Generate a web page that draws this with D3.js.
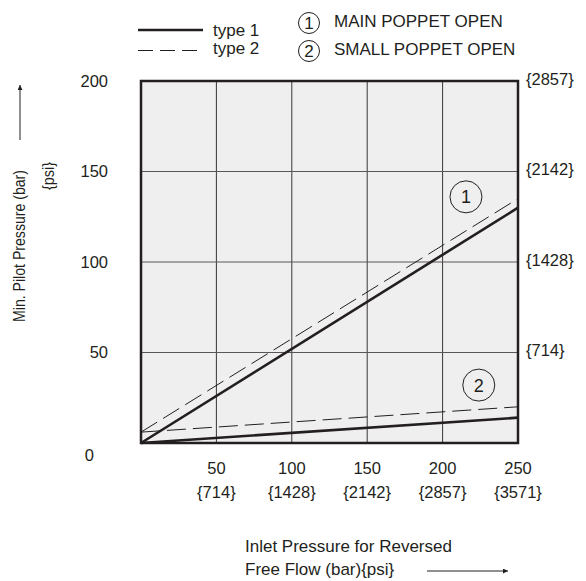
<!DOCTYPE html>
<html>
<head>
<meta charset="utf-8">
<script src="https://cdn.jsdelivr.net/npm/d3@7"></script>
<style>
  body { margin: 0; background: #fff; }
  text { font-family: "Liberation Sans", Arial, sans-serif; fill: #231f20; }
</style>
</head>
<body>
<div id="chart-area"></div>
<script>
// data
var inletBar = [0, 250];
var mainType1 = [0, 130];
var mainType2 = [6, 135];
var smallType1 = [0, 14];
var smallType2 = [6, 20];

var xTicks = [50, 100, 150, 200, 250];
var xPsi = ["{714}", "{1428}", "{2142}", "{2857}", "{3571}"];
var yTicks = [0, 50, 100, 150, 200];
var yPsi = ["", "{714}", "{1428}", "{2142}", "{2857}"];

const svgWidth = 586, svgHeight = 581;
var plot = {left: 141, right: 518, top: 81, bottom: 443};
var ink = "#231f20";
var fs = "16.5px";

var svg = d3.select("#chart-area").append("svg")
    .attr("width", svgWidth)
    .attr("height", svgHeight);

var x = d3.scaleLinear().domain([0, 250]).range([plot.left, plot.right]);
var y = d3.scaleLinear().domain([0, 200]).range([plot.bottom, plot.top]);

// background
svg.append("rect")
    .attr("x", plot.left).attr("y", plot.top)
    .attr("width", plot.right - plot.left)
    .attr("height", plot.bottom - plot.top)
    .attr("fill", "#efefef");

// grid
svg.selectAll(".vgrid").data(xTicks.slice(0, -1)).enter().append("line")
    .attr("x1", d => x(d)).attr("x2", d => x(d))
    .attr("y1", plot.top).attr("y2", plot.bottom)
    .attr("stroke", "#3a3637").attr("stroke-width", 1);
svg.selectAll(".hgrid").data(yTicks.slice(1, -1)).enter().append("line")
    .attr("x1", plot.left).attr("x2", plot.right)
    .attr("y1", d => y(d)).attr("y2", d => y(d))
    .attr("stroke", "#5a5657").attr("stroke-width", 1);

// lines
function series(vals) { return inletBar.map((v, i) => [v, vals[i]]); }
var line = d3.line().x(d => x(d[0])).y(d => y(d[1]));

[[mainType2, true], [smallType2, true], [mainType1, false], [smallType1, false]].forEach(function(s) {
    svg.append("path")
        .attr("d", line(series(s[0])))
        .attr("fill", "none")
        .attr("stroke", ink)
        .attr("stroke-width", s[1] ? 1 : 2.6)
        .attr("stroke-dasharray", s[1] ? "19,7" : null);
});

// frame
svg.append("rect")
    .attr("x", plot.left).attr("y", plot.top)
    .attr("width", plot.right - plot.left)
    .attr("height", plot.bottom - plot.top)
    .attr("fill", "none")
    .attr("stroke", ink)
    .attr("stroke-width", 2.5);

// circled labels in plot
[[1, 215.5, 136], [2, 224, 32]].forEach(function(c) {
    var g = svg.append("g").attr("transform", "translate(" + x(c[1]) + "," + y(c[2]) + ")");
    g.append("circle").attr("r", 16).attr("fill", "none").attr("stroke", ink).attr("stroke-width", 1);
    g.append("text").attr("text-anchor", "middle").attr("dy", "0.36em")
        .attr("font-size", "18px").text(c[0]);
});

// x tick labels
svg.selectAll(".xt").data(xTicks).enter().append("text")
    .attr("x", d => x(d)).attr("y", 474)
    .attr("text-anchor", "middle").attr("font-size", fs)
    .text(d => d);
svg.selectAll(".xp").data(xPsi).enter().append("text")
    .attr("x", (d, i) => x(xTicks[i])).attr("y", 498)
    .attr("text-anchor", "middle").attr("font-size", fs)
    .text(d => d);

// y tick labels
svg.selectAll(".yt").data(yTicks).enter().append("text")
    .attr("x", d => d === 0 ? 94 : 108)
    .attr("y", d => d === 0 ? y(d) + 12 : y(d))
    .attr("dy", "0.35em")
    .attr("text-anchor", "end").attr("font-size", fs)
    .text(d => d);
svg.selectAll(".yp").data(yPsi).enter().append("text")
    .attr("x", 526).attr("y", (d, i) => y(yTicks[i]) - 2)
    .attr("dy", "0.35em")
    .attr("font-size", fs)
    .text(d => d);

// arrow marker
svg.append("defs").append("marker")
    .attr("id", "arr").attr("viewBox", "0 0 10 10")
    .attr("refX", 10).attr("refY", 5)
    .attr("markerWidth", 12).attr("markerHeight", 5)
    .attr("markerUnits", "userSpaceOnUse")
    .attr("orient", "auto")
  .append("path").attr("d", "M0,0L10,5L0,10Z").attr("fill", ink);

// y title (condensed along its length like the reference)
svg.append("text")
    .attr("transform", "translate(25,246) rotate(-90)")
    .attr("text-anchor", "middle").attr("font-size", "17px")
    .attr("textLength", 152).attr("lengthAdjust", "spacingAndGlyphs")
    .text("Min. Pilot Pressure (bar)");
svg.append("text")
    .attr("transform", "translate(54,176) rotate(-90)")
    .attr("text-anchor", "middle").attr("font-size", "17px")
    .attr("textLength", 28).attr("lengthAdjust", "spacingAndGlyphs")
    .text("{psi}");
svg.append("line")
    .attr("x1", 20).attr("x2", 20).attr("y1", 140).attr("y2", 85)
    .attr("stroke", ink).attr("stroke-width", 1)
    .attr("marker-end", "url(#arr)");

// x title
svg.append("text")
    .attr("x", 245).attr("y", 552)
    .attr("font-size", "17px")
    .text("Inlet Pressure for Reversed");
svg.append("text")
    .attr("x", 245).attr("y", 575)
    .attr("font-size", "17px")
    .text("Free Flow (bar){psi}");
svg.append("line")
    .attr("x1", 427).attr("x2", 508).attr("y1", 571).attr("y2", 571)
    .attr("stroke", ink).attr("stroke-width", 1)
    .attr("marker-end", "url(#arr)");

// legend
svg.append("line").attr("x1", 138).attr("x2", 203).attr("y1", 30).attr("y2", 30)
    .attr("stroke", ink).attr("stroke-width", 2.5);
svg.append("line").attr("x1", 138).attr("x2", 203).attr("y1", 50.5).attr("y2", 50.5)
    .attr("stroke", ink).attr("stroke-width", 1).attr("stroke-dasharray", "15,7");
svg.append("text").attr("x", 213).attr("y", 36).attr("font-size", "17px").text("type 1");
svg.append("text").attr("x", 213).attr("y", 54).attr("font-size", "17px").text("type 2");

[["1", "MAIN POPPET OPEN", 23, 27], ["2", "SMALL POPPET OPEN", 51, 55]].forEach(function(l) {
    svg.append("circle").attr("cx", 309).attr("cy", l[2]).attr("r", 10.5)
        .attr("fill", "none").attr("stroke", ink).attr("stroke-width", 1);
    svg.append("text").attr("x", 309).attr("y", l[2]).attr("dy", "0.36em")
        .attr("text-anchor", "middle").attr("font-size", "17px").text(l[0]);
    svg.append("text").attr("x", 334).attr("y", l[3])
        .attr("font-size", "17px").text(l[1]);
});
</script>
</body>
</html>
